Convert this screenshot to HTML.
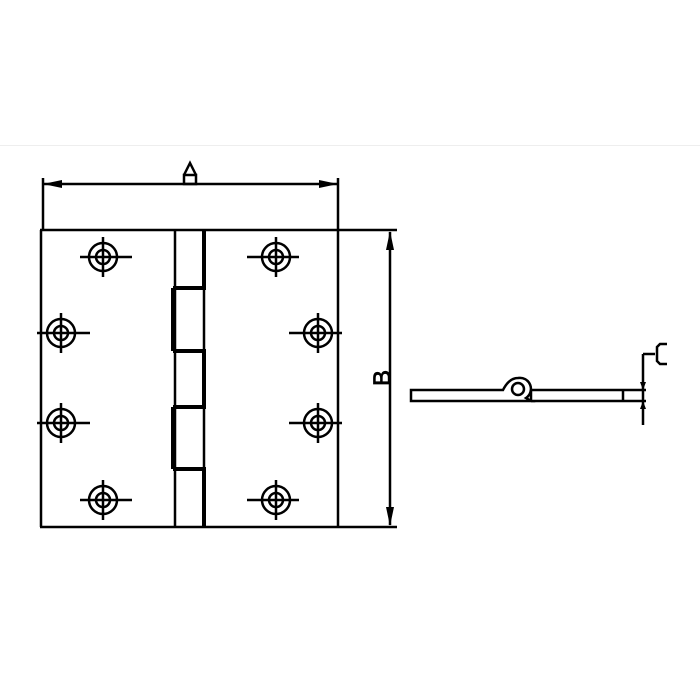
<!DOCTYPE html>
<html><head><style>body{margin:0;background:#fff}svg{display:block}</style></head><body>
<svg width="700" height="700" viewBox="0 0 700 700" xmlns="http://www.w3.org/2000/svg">
<line x1="0" y1="145.5" x2="700" y2="145.5" stroke="#eee" stroke-width="1"/>
<g stroke="#000" fill="none" stroke-width="2.5">
<line x1="40" y1="230" x2="397" y2="230"/>
<line x1="40" y1="527" x2="397" y2="527"/>
<line x1="41" y1="230" x2="41" y2="527"/>
<line x1="338" y1="178" x2="338" y2="527"/>
<line x1="43" y1="178" x2="43" y2="230"/>
<line x1="43" y1="184" x2="338" y2="184"/>
<line x1="175" y1="230" x2="175" y2="527"/>
<line x1="204" y1="230" x2="204" y2="527"/>
<g stroke-width="4">
<line x1="204" y1="230" x2="204" y2="288"/>
<line x1="173" y1="288" x2="173" y2="351"/>
<line x1="204" y1="351" x2="204" y2="407"/>
<line x1="173" y1="407" x2="173" y2="469"/>
<line x1="204" y1="469" x2="204" y2="527"/>
<line x1="173" y1="288" x2="206" y2="288"/>
<line x1="173" y1="351" x2="206" y2="351"/>
<line x1="173" y1="407" x2="206" y2="407"/>
<line x1="173" y1="469" x2="206" y2="469"/>
</g>
<line x1="390" y1="232" x2="390" y2="525"/>
<rect x="184" y="175" width="12" height="9"/>
<path d="M184 175 L190 163 L196 175"/>
</g>
<g fill="#000">
<path d="M43 184 L62 180 L62 188 Z"/>
<path d="M338 184 L319 180 L319 188 Z"/>
<path d="M390 231 L386 250 L394 250 Z"/>
<path d="M390 526 L386 507 L394 507 Z"/>
</g>
<text x="0" y="0" transform="translate(390,378) rotate(-90)" font-family="Liberation Sans, sans-serif" font-size="24" stroke="#000" stroke-width="0.8" text-anchor="middle" fill="#000">B</text>
<g stroke="#000" fill="none" stroke-width="2.5">
<g transform="translate(103,257)"><circle r="14"/><circle r="7"/><line x1="-23" y1="0" x2="29" y2="0"/><line x1="0" y1="-20" x2="0" y2="20"/></g>
<g transform="translate(276,257)"><circle r="14"/><circle r="7"/><line x1="-29" y1="0" x2="23" y2="0"/><line x1="0" y1="-20" x2="0" y2="20"/></g>
<g transform="translate(103,500)"><circle r="14"/><circle r="7"/><line x1="-23" y1="0" x2="29" y2="0"/><line x1="0" y1="-20" x2="0" y2="20"/></g>
<g transform="translate(276,500)"><circle r="14"/><circle r="7"/><line x1="-29" y1="0" x2="23" y2="0"/><line x1="0" y1="-20" x2="0" y2="20"/></g>
<g transform="translate(61,333)"><circle r="14"/><circle r="7"/><line x1="-24" y1="0" x2="29" y2="0"/><line x1="0" y1="-20" x2="0" y2="20"/></g>
<g transform="translate(61,423)"><circle r="14"/><circle r="7"/><line x1="-24" y1="0" x2="29" y2="0"/><line x1="0" y1="-20" x2="0" y2="20"/></g>
<g transform="translate(318,333)"><circle r="14"/><circle r="7"/><line x1="-29" y1="0" x2="24" y2="0"/><line x1="0" y1="-20" x2="0" y2="20"/></g>
<g transform="translate(318,423)"><circle r="14"/><circle r="7"/><line x1="-29" y1="0" x2="24" y2="0"/><line x1="0" y1="-20" x2="0" y2="20"/></g>
</g>
<g stroke="#000" fill="none" stroke-width="2.5">
<path d="M411 390 L503 390 Q509 378 518 378 A11 11 0 0 1 526 398 L531 401 L411 401 Z"/>
<line x1="531" y1="390" x2="646" y2="390"/>
<line x1="531" y1="401" x2="646" y2="401"/>
<line x1="531" y1="390" x2="531" y2="401"/>
<line x1="623" y1="390" x2="623" y2="401"/>
<circle cx="518" cy="389" r="6"/>
<line x1="643" y1="354" x2="643" y2="425"/>
<line x1="643" y1="354" x2="655" y2="354"/>
<path d="M667 344 L660 344 L657 347 L657 361 L660 364 L667 364"/>
</g>
<g fill="#000">
<path d="M643 390 L640 382 L646 382 Z"/>
<path d="M643 401 L640 409 L646 409 Z"/>
</g>
</svg>
</body></html>
